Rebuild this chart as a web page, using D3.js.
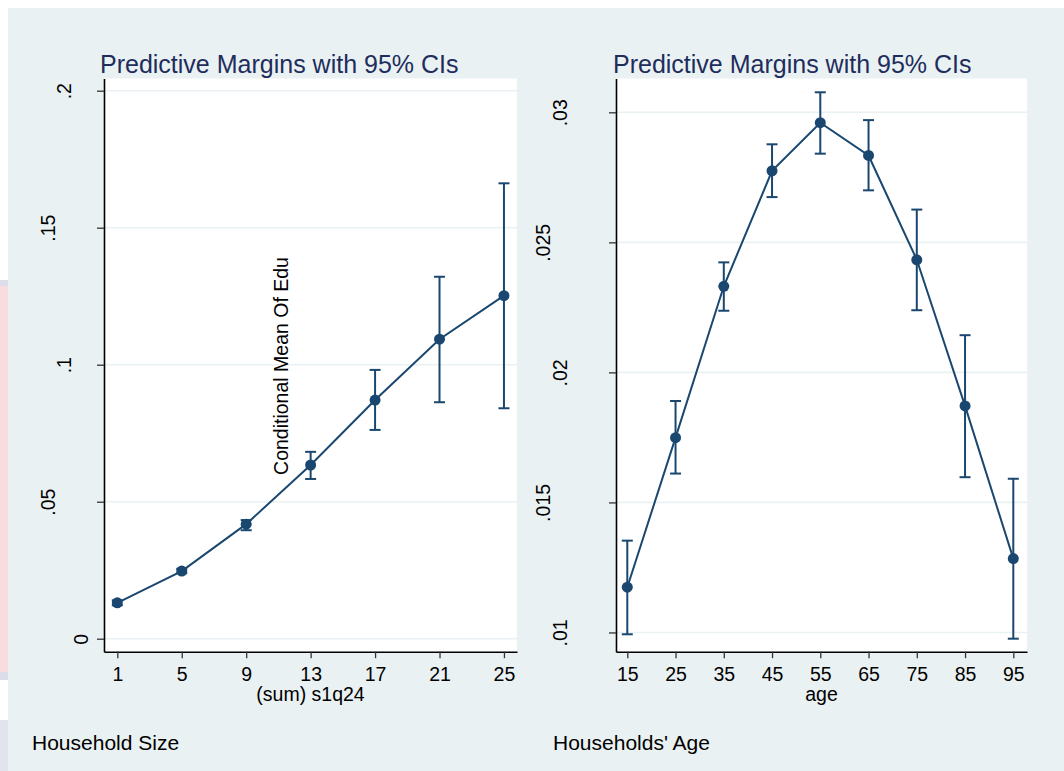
<!DOCTYPE html>
<html>
<head>
<meta charset="utf-8">
<script src="https://cdn.jsdelivr.net/npm/d3@7"></script>
<style>
  body { margin: 0; background: #fff; }
  text { font-family: "Liberation Sans", Arial, sans-serif; }
</style>
</head>
<body>
<div id="chart"></div>
<script>
// household size panel
const hhSize = [1, 5, 9, 13, 17, 21, 25];
const hhMargin = [0.0131, 0.0247, 0.0418, 0.0634, 0.0871, 0.1093, 0.1252];
const hhLower = [0.0122, 0.0239, 0.0396, 0.0583, 0.0762, 0.0863, 0.0841];
const hhUpper = [0.0140, 0.0255, 0.0433, 0.0682, 0.0981, 0.1321, 0.1662];
const hhXTicks = [1, 5, 9, 13, 17, 21, 25];
const hhYTicks = [0, 0.05, 0.1, 0.15, 0.2];

// age panel
const age = [15, 25, 35, 45, 55, 65, 75, 85, 95];
const ageMargin = [0.01174, 0.01749, 0.02331, 0.02775, 0.02960, 0.02834, 0.02433, 0.01871, 0.01284];
const ageLower = [0.00993, 0.01611, 0.02237, 0.02674, 0.02841, 0.02700, 0.02239, 0.01597, 0.00976];
const ageUpper = [0.01353, 0.01890, 0.02423, 0.02877, 0.03077, 0.02970, 0.02626, 0.02143, 0.01591];
const ageXTicks = [15, 25, 35, 45, 55, 65, 75, 85, 95];
const ageYTicks = [0.01, 0.015, 0.02, 0.025, 0.03];

const navy = '#1a476f';
const W = 1064, H = 771;

const svg = d3.select('#chart')
  .append('svg')
    .attr('width', W)
    .attr('height', H);

// outer graph region
svg.append('rect').attr('x', 8).attr('y', 8).attr('width', W - 8).attr('height', H - 8)
  .attr('fill', '#eaf1f3');
// odd strip on the left edge of the screenshot
svg.append('rect').attr('x', 0).attr('y', 286).attr('width', 8).attr('height', 386).attr('fill', '#f9dcdf');
svg.append('rect').attr('x', 0).attr('y', 280).attr('width', 8).attr('height', 6).attr('fill', '#dcdde8');
svg.append('rect').attr('x', 0).attr('y', 672).attr('width', 8).attr('height', 8).attr('fill', '#dcdde8');
svg.append('rect').attr('x', 0).attr('y', 720).attr('width', 8).attr('height', 51).attr('fill', '#e2e3ec');

const fmt = d => d === 0 ? '0' : String(d).replace(/^0/, '');

function panel(opt) {
  const g = svg.append('g');
  const x = d3.scaleLinear().domain(opt.xDomain).range([opt.x0, opt.x1]);
  const y = d3.scaleLinear().domain(opt.yDomain).range([opt.y1, opt.y0]);

  // plot region
  g.append('rect')
    .attr('x', opt.x0).attr('y', opt.y0)
    .attr('width', opt.x1 - opt.x0).attr('height', opt.y1 - opt.y0)
    .attr('fill', '#fff');

  // grid lines
  g.selectAll('line.grid')
    .data(opt.yTicks)
    .enter()
    .append('line')
      .attr('class', 'grid')
      .attr('x1', opt.x0).attr('x2', opt.x1)
      .attr('y1', d => y(d)).attr('y2', d => y(d))
      .attr('stroke', '#e9f1f4')
      .attr('stroke-width', 1.6);

  // x axis
  const xa = g.append('g')
    .attr('transform', `translate(0,${opt.y1})`)
    .call(d3.axisBottom(x).tickValues(opt.xTicks).tickSize(6.5).tickSizeOuter(0).tickPadding(9).tickFormat(d3.format('d')));
  xa.select('.domain').attr('stroke', '#000').attr('stroke-width', 1.6);
  xa.selectAll('.tick line').attr('stroke', '#333').attr('stroke-width', 1.3);
  xa.selectAll('.tick text').attr('font-size', '19.5px').attr('fill', '#000')
    .attr('font-family', '"Liberation Sans", Arial, sans-serif');

  // y axis
  const ya = g.append('g')
    .attr('transform', `translate(${opt.x0},0)`)
    .call(d3.axisLeft(y).tickValues(opt.yTicks).tickSize(7).tickSizeOuter(0).tickFormat(fmt));
  ya.select('.domain').attr('stroke', '#000').attr('stroke-width', 1.6);
  ya.selectAll('.tick line').attr('stroke', '#333').attr('stroke-width', 1.3);
  ya.selectAll('.tick text')
    .attr('font-size', '19.5px').attr('fill', '#000')
    .attr('font-family', '"Liberation Sans", Arial, sans-serif')
    .attr('text-anchor', 'middle')
    .attr('transform', function (d) {
      const n = fmt(d).length;
      const cx = -16.4 * n;   // longer labels sit further out, as in the original
      return `translate(${cx},0) rotate(-90)`;
    })
    .attr('x', 0).attr('y', 0).attr('dy', 0);

  // titles
  g.append('text')
    .attr('x', opt.titleX).attr('y', 73)
    .attr('font-size', '25px').attr('fill', '#1e2d5c')
    .text('Predictive Margins with 95% CIs');

  g.append('text')
    .attr('x', (opt.x0 + opt.x1) / 2).attr('y', 701)
    .attr('text-anchor', 'middle')
    .attr('font-size', '19.5px')
    .text(opt.xTitle);

  g.append('text')
    .attr('x', opt.noteX).attr('y', 750)
    .attr('font-size', '21px')
    .text(opt.note);

  const rows = opt.xs.map((v, i) => ({ x: v, m: opt.m[i], lo: opt.lo[i], hi: opt.hi[i] }));

  // confidence intervals
  const ci = g.selectAll('g.ci').data(rows).enter().append('g')
    .attr('stroke', navy).attr('stroke-width', 2);
  ci.append('line')
    .attr('x1', d => x(d.x)).attr('x2', d => x(d.x))
    .attr('y1', d => y(d.lo)).attr('y2', d => y(d.hi));
  ci.append('line')
    .attr('x1', d => x(d.x) - 5.5).attr('x2', d => x(d.x) + 5.5)
    .attr('y1', d => y(d.lo)).attr('y2', d => y(d.lo));
  ci.append('line')
    .attr('x1', d => x(d.x) - 5.5).attr('x2', d => x(d.x) + 5.5)
    .attr('y1', d => y(d.hi)).attr('y2', d => y(d.hi));

  // connecting line
  g.append('path')
    .datum(rows)
    .attr('fill', 'none')
    .attr('stroke', navy)
    .attr('stroke-width', 2)
    .attr('d', d3.line().x(d => x(d.x)).y(d => y(d.m)));

  // markers
  g.selectAll('circle')
    .data(rows)
    .enter()
    .append('circle')
      .attr('cx', d => x(d.x))
      .attr('cy', d => y(d.m))
      .attr('r', 5.5)
      .attr('fill', navy);

  return g;
}

const left = panel({
  x0: 104, x1: 517, y0: 78.5, y1: 651.7,
  xDomain: [0.174, 25.81], yDomain: [-0.00474, 0.20445],
  xTicks: hhXTicks, yTicks: hhYTicks,
  xs: hhSize, m: hhMargin, lo: hhLower, hi: hhUpper,
  titleX: 100, xTitle: '(sum) s1q24', noteX: 32, note: 'Household Size'
});

// y title sits inside the plot in the original
left.append('text')
  .attr('transform', 'translate(288,366) rotate(-90)')
  .attr('text-anchor', 'middle')
  .attr('font-size', '19.5px')
  .text('Conditional Mean Of Edu');

panel({
  x0: 616, x1: 1027, y0: 78.5, y1: 651.7,
  xDomain: [12.66, 97.84], yDomain: [0.00926, 0.0313],
  xTicks: ageXTicks, yTicks: ageYTicks,
  xs: age, m: ageMargin, lo: ageLower, hi: ageUpper,
  titleX: 613, xTitle: 'age', noteX: 553, note: "Households' Age"
});
</script>
</body>
</html>
